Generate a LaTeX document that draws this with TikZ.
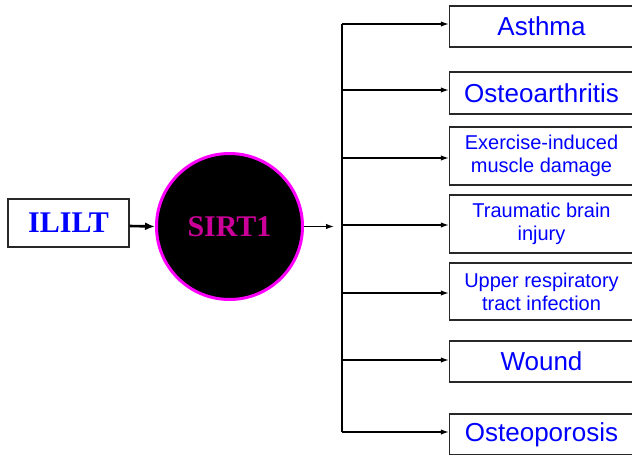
\documentclass[tikz,border=0pt]{standalone}
\usepackage{fontspec}
\setmainfont{Liberation Serif}
\newfontfamily\arialf{Liberation Sans}
\usetikzlibrary{arrows.meta}
\definecolor{sirtc}{RGB}{204,0,153}
\definecolor{ringc}{RGB}{255,0,255}
\definecolor{boxc}{RGB}{40,40,40}
\tikzset{
  dbox/.style={draw=boxc, line width=1.4pt, fill=white, minimum width=184pt, inner sep=0pt,
    text=blue, font=\arialf\fontsize{20}{23}\selectfont, align=center},
  bigt/.style={font=\arialf\fontsize{26}{30}\selectfont},
  arr/.style={line width=1.3pt, -{Latex[length=8pt,width=5.5pt]}},
  bus/.style={line width=1.6pt},
}
\begin{document}
\begin{tikzpicture}[x=1pt,y=-1pt]
\useasboundingbox (0,0) rectangle (632,455);
\begin{scope}
\clip (0,0) rectangle (632,455);
% left nodes
\node[draw=boxc, line width=1.4pt, fill=white, minimum width=121pt, minimum height=48pt, inner sep=0pt,
  text=blue, font=\fontsize{30}{34}\selectfont\bfseries] (ililt) at (68.5,223) {ILILT};
\node[circle, draw=ringc, line width=3pt, fill=black, minimum size=146pt, inner sep=0pt,
  text=sirtc, font=\fontsize{30}{34}\selectfont\bfseries] (sirt) at (229.5,226.5) {SIRT1};
\draw[line width=2.6pt, -{Latex[length=10pt,width=8pt]}] (ililt.east |- 0,226) -- (sirt.west);
\coordinate (sout) at (334,226.5);
\draw[arr] (sirt.east) -- (sout);
% bus
\coordinate (top) at (342,24);
\coordinate (bot) at (342,432);
\draw[bus] (top) -- (bot);
% boxes
\node[dbox, bigt, minimum height=41pt] (b1) at (541.5,26.5) {Asthma};
\node[dbox, bigt, minimum height=42pt] (b2) at (541.5,93) {Osteoarthritis};
\node[dbox, minimum height=58pt] (b3) at (541.5,156) {Exercise-induced\\muscle damage};
\node[dbox, minimum height=58pt] (b4) at (541.5,224) {Traumatic brain\\injury};
\node[dbox, minimum height=57pt] (b5) at (541.5,291.5) {Upper respiratory\\tract infection};
\node[dbox, bigt, minimum height=41pt] (b6) at (541.5,361.5) {Wound};
\node[dbox, bigt, minimum height=41pt] (b7) at (541.5,434.5) {Osteoporosis};
% branches
\coordinate (j1) at (342,24);
\coordinate (j2) at (342,90);
\coordinate (j3) at (342,158);
\coordinate (j4) at (342,225);
\coordinate (j5) at (342,293);
\coordinate (j6) at (342,360);
\coordinate (j7) at (342,432);
\foreach \i in {1,...,7}{
  \draw[arr] (j\i) -- (j\i -| b\i.west);
}
\end{scope}
\end{tikzpicture}
\end{document}
